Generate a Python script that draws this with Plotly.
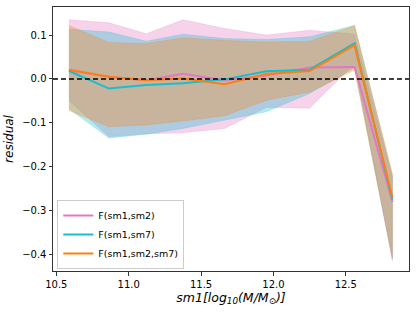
import plotly.graph_objects as go

x = [10.587, 10.864, 11.122, 11.375, 11.663, 11.951, 12.25, 12.561, 12.822]

names = ["F(sm1,sm2)", "F(sm1,sm7)", "F(sm1,sm2,sm7)"]
colors = ["#e377c2", "#17becf", "#ff7f0e"]
fills = ["rgba(227,119,194,0.33)", "rgba(23,190,207,0.33)", "rgba(255,127,14,0.33)"]

med_sm2 = [0.020, 0.005, -0.003, 0.012, -0.003, 0.008, 0.026, 0.027, -0.280]
med_sm7 = [0.018, -0.022, -0.014, -0.010, -0.001, 0.0175, 0.021, 0.081, -0.275]
med_all = [0.021, 0.005, -0.003, 0.001, -0.012, 0.011, 0.018, 0.077, -0.270]

up_sm2 = [0.135, 0.128, 0.103, 0.135, 0.115, 0.100, 0.111, 0.102, -0.225]
up_sm7 = [0.113, 0.107, 0.086, 0.102, 0.092, 0.090, 0.096, 0.122, -0.220]
up_all = [0.122, 0.083, 0.081, 0.094, 0.088, 0.084, 0.086, 0.122, -0.215]

lo_sm2 = [-0.049, -0.132, -0.125, -0.123, -0.113, -0.065, -0.067, 0.035, -0.415]
lo_sm7 = [-0.068, -0.135, -0.126, -0.113, -0.094, -0.075, -0.033, 0.025, -0.410]
lo_all = [-0.072, -0.109, -0.105, -0.096, -0.084, -0.049, -0.030, 0.020, -0.408]

meds = [med_sm2, med_sm7, med_all]
ups = [up_sm2, up_sm7, up_all]
los = [lo_sm2, lo_sm7, lo_all]

fig = go.Figure()

for i in range(3):
    fig.add_trace(go.Scatter(
        x=x + x[::-1], y=ups[i] + los[i][::-1],
        fill="toself", fillcolor=fills[i], mode="lines",
        line=dict(width=0.6, color=fills[i]),
        showlegend=False, hoverinfo="skip"))

fig.add_hline(y=0, line=dict(color="black", width=1.5, dash="5px,3px"))

for i in range(3):
    fig.add_trace(go.Scatter(
        x=x, y=meds[i], mode="lines", name=names[i],
        line=dict(color=colors[i], width=2)))

fig.update_layout(
    width=416, height=312,
    margin=dict(l=53, r=7, t=7, b=41),
    paper_bgcolor="white", plot_bgcolor="white",
    font=dict(family="DejaVu Sans", size=10, color="black"),
    showlegend=True,
    legend=dict(x=0.012, y=0.008, xanchor="left", yanchor="bottom",
                bordercolor="#cccccc", borderwidth=1, bgcolor="rgba(255,255,255,0.8)",
                font=dict(size=9.5), tracegroupgap=0, itemwidth=30),
)

fig.update_xaxes(range=[10.477, 12.937], tickvals=[10.5, 11.0, 11.5, 12.0, 12.5],
                 tickformat=".1f", showgrid=False, zeroline=False,
                 showline=True, mirror=True, linecolor="#333333", linewidth=1,
                 ticks="outside", ticklen=3.5, tickcolor="#333333",
                 title=dict(text="<i>sm1[log<sub>10</sub>(M/M<sub>⊙</sub>)]</i>",
                            font=dict(size=12.5), standoff=2))
fig.update_yaxes(range=[-0.438, 0.164], tickvals=[-0.4, -0.3, -0.2, -0.1, 0.0, 0.1],
                 tickformat=".1f", showgrid=False, zeroline=False,
                 showline=True, mirror=True, linecolor="#333333", linewidth=1,
                 ticks="outside", ticklen=3.5, tickcolor="#333333",
                 title=dict(text="<i>residual</i>", font=dict(size=12), standoff=6))

fig.write_html("out.html", config={"displayModeBar": False},
               post_script="document.body.style.margin='0';")
